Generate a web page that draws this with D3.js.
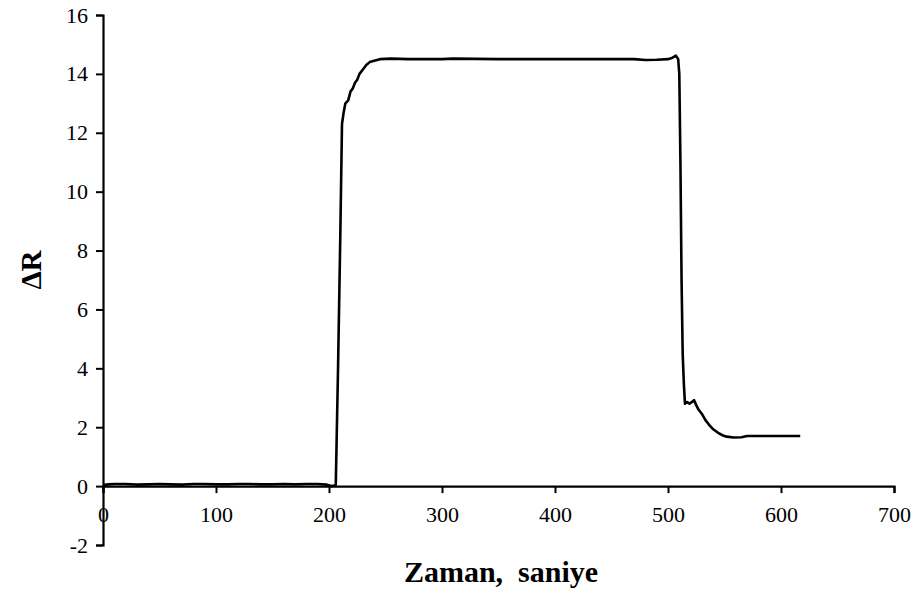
<!DOCTYPE html>
<html>
<head>
<meta charset="utf-8">
<script src="https://cdn.jsdelivr.net/npm/d3@7"></script>
<style>
  html, body { margin: 0; padding: 0; background: #fff; }
  svg { display: block; }
  svg text { font-family: "Liberation Serif", "Times New Roman", serif; fill: #000; }
</style>
</head>
<body>
<svg id="chart" width="918" height="594"></svg>
<script>
// Data
const timeSec = [0,5,10,20,30,40,50,60,70,80,90,100,110,120,130,140,150,160,170,180,190,198,202,205,
  206,208,210,211.5,213,214.5,217,219,221,223,225,227,230,233,236,240,245,255,270,
  280,300,310,350,400,450,470,480,490,500,504,507,509,510,511,512,513,514,515,
  517,519,521,523,525,527,530,533,536,540,544,548,552,558,565,570,580,600,617];
const deltaR = [0.04,0.06,0.07,0.07,0.05,0.06,0.07,0.06,0.05,0.07,0.07,0.06,0.06,0.07,0.07,0.06,0.06,0.07,0.06,0.07,0.07,0.05,0.0,0.02,
  0.05,4.0,8.5,12.3,12.7,13.0,13.1,13.4,13.5,13.7,13.8,14.0,14.15,14.3,14.4,14.45,14.5,14.52,14.5,
  14.5,14.5,14.52,14.5,14.5,14.5,14.5,14.47,14.48,14.5,14.55,14.62,14.5,14.0,11.0,7.0,4.5,3.5,2.8,
  2.85,2.8,2.85,2.92,2.75,2.6,2.45,2.25,2.1,1.93,1.82,1.73,1.68,1.65,1.66,1.7,1.7,1.7,1.7];
const xTicks = [0,100,200,300,400,500,600,700];
const yTicks = [-2,0,2,4,6,8,10,12,14,16];
const xLabel = "Zaman,\u00a0 saniye";
const yLabel = "\u0394R";

const svg = d3.select("#chart");
const x = d3.scaleLinear().domain([0, 700]).range([103, 894]);
const y = d3.scaleLinear().domain([-2, 16]).range([545, 15]);
const font = "\"Liberation Serif\", \"Times New Roman\", serif";
const fmt = d => String(d);

// X axis at y = 0
const xAxis = d3.axisBottom(x).tickValues(xTicks).tickSize(7).tickPadding(13).tickFormat(fmt);
const gx = svg.append("g").attr("transform", `translate(0,${y(0)})`).call(xAxis);
gx.attr("font-family", null).attr("font-size", null);
gx.select(".domain").attr("stroke", "#000").attr("stroke-width", 2.2);
gx.selectAll(".tick line").attr("stroke", "#000").attr("stroke-width", 2);
gx.selectAll(".tick text").style("font-family", font).style("font-size", "22px").attr("fill", "#000");

// Y axis
const yAxis = d3.axisLeft(y).tickValues(yTicks).tickSize(7).tickPadding(8).tickFormat(fmt);
const gy = svg.append("g").attr("transform", `translate(${x(0)},0)`).call(yAxis);
gy.attr("font-family", null).attr("font-size", null);
gy.select(".domain").attr("stroke", "#000").attr("stroke-width", 2.2);
gy.selectAll(".tick line").attr("stroke", "#000").attr("stroke-width", 2);
gy.selectAll(".tick text").style("font-family", font).style("font-size", "22px").attr("fill", "#000");

// Line
const line = d3.line().x((d, i) => x(timeSec[i])).y(d => y(d));
svg.append("path")
  .datum(deltaR)
  .attr("fill", "none")
  .attr("stroke", "#000")
  .attr("stroke-width", 2.6)
  .attr("stroke-linejoin", "round")
  .attr("d", line);

// Axis titles
svg.append("text")
  .attr("x", 501).attr("y", 582)
  .attr("text-anchor", "middle")
  .style("font-family", font).style("font-weight", "bold").style("font-size", "30px")
  .text(xLabel);

svg.append("text")
  .attr("transform", `translate(41,270) rotate(-90)`)
  .attr("text-anchor", "middle")
  .style("font-family", font).style("font-weight", "bold").style("font-size", "29px")
  .text(yLabel);
</script>
</body>
</html>
